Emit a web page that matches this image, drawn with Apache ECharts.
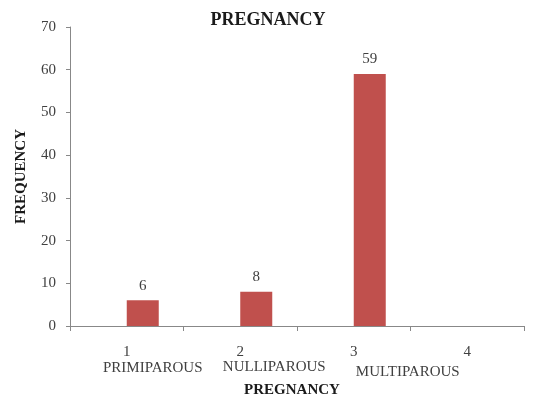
<!DOCTYPE html>
<html>
<head>
<meta charset="utf-8">
<style>
  html, body { margin: 0; padding: 0; background: #fff; }
  #chart { width: 536px; height: 394px; }
</style>
<script src="https://cdn.jsdelivr.net/npm/echarts@6/dist/echarts.min.js"></script>
</head>
<body>
<div id="chart"></div>
<script>
// Category codes on the x axis and the pregnancy group each one stands for
const categories = ['1', '2', '3', '4'];
const groupNames = ['PRIMIPAROUS', 'NULLIPAROUS', 'MULTIPAROUS', ''];
// Frequency per group (group 4 has no cases drawn)
const frequency = [6, 8, 59, null];
// Empty companion series that keeps the left half of each category free
const emptySeries = [null, null, null, null];
const yTicks = [0, 10, 20, 30, 40, 50, 60, 70];

const FONT = '"Liberation Serif", "Times New Roman", serif';
const TEXT = '#404040';
const AXIS = '#888888';

const chart = echarts.init(document.getElementById('chart'), null, { renderer: 'canvas' });

chart.setOption({
  animation: false,
  title: {
    text: 'PREGNANCY',
    left: 'center',
    top: 11,
    padding: 0,
    textStyle: { fontFamily: FONT, fontSize: 18, fontWeight: 'bold', color: '#1a1a1a' }
  },
  grid: { left: 70, right: 12, top: 27, bottom: 68, containLabel: false, outerBoundsMode: 'none' },
  xAxis: {
    type: 'category',
    data: categories,
    name: 'PREGNANCY',
    nameLocation: 'middle',
    nameGap: 57,
    nameMoveOverlap: false,
    nameTextStyle: { fontFamily: FONT, fontSize: 15, fontWeight: 'bold', color: '#1a1a1a', padding: [0, 10, 0, 0] },
    axisLine: { lineStyle: { color: AXIS } },
    axisTick: { show: true, length: 5, lineStyle: { color: AXIS } },
    axisLabel: {
      interval: 0,
      margin: 20,
      color: TEXT,
      fontFamily: FONT,
      fontSize: 15,
      formatter: function (value, idx) {
        const word = groupNames[idx];
        return word ? '{n|' + value + '}\n{w' + idx + '|' + word + '}' : '{n|' + value + '}';
      },
      rich: {
        n: { fontFamily: FONT, fontSize: 15, color: TEXT, lineHeight: 12 },
        w0: { fontFamily: FONT, fontSize: 15, color: TEXT, lineHeight: 20, padding: [0, 0, 0, 52] },
        w1: { fontFamily: FONT, fontSize: 15, color: TEXT, lineHeight: 18, padding: [0, 0, 0, 68] },
        w2: { fontFamily: FONT, fontSize: 15, color: TEXT, lineHeight: 28, padding: [0, 0, 0, 108] }
      }
    },
    splitLine: { show: false }
  },
  yAxis: {
    type: 'value',
    min: yTicks[0],
    max: yTicks[yTicks.length - 1],
    interval: yTicks[1] - yTicks[0],
    name: 'FREQUENCY',
    nameLocation: 'middle',
    nameRotate: 90,
    nameGap: 41,
    nameMoveOverlap: false,
    nameTextStyle: { fontFamily: FONT, fontSize: 15, fontWeight: 'bold', color: '#1a1a1a' },
    axisLine: { show: true, lineStyle: { color: AXIS } },
    axisTick: { show: true, length: 4, lineStyle: { color: AXIS } },
    axisLabel: { margin: 14, color: TEXT, fontFamily: FONT, fontSize: 15 },
    splitLine: { show: false }
  },
  series: [
    {
      type: 'bar',
      data: emptySeries,
      barWidth: 32,
      barGap: '0%',
      itemStyle: { color: '#4f81bd' }
    },
    {
      type: 'bar',
      data: frequency,
      barWidth: 32,
      barGap: '0%',
      itemStyle: { color: '#c0504d' },
      label: {
        show: true,
        position: 'top',
        distance: 7,
        color: TEXT,
        fontFamily: FONT,
        fontSize: 15
      }
    }
  ]
});
</script>
</body>
</html>
